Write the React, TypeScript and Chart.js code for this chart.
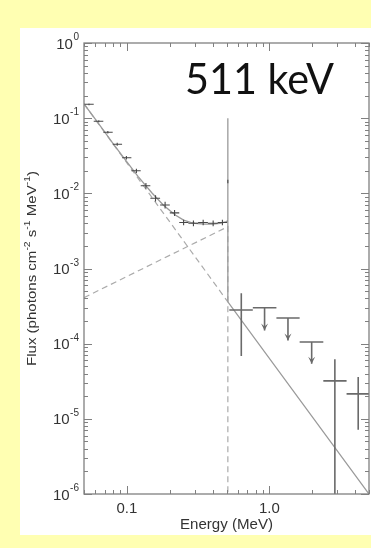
import React, { useEffect, useRef } from 'react';
import { Chart, registerables } from 'chart.js';

Chart.register(...registerables);

// ---------- data ----------
// low-energy spectrum points (MeV, photons cm^-2 s^-1 MeV^-1)
const lowE = [0.0542, 0.0635, 0.0735, 0.0855, 0.0992, 0.1166, 0.136, 0.1588, 0.1854, 0.216, 0.25, 0.293, 0.343, 0.403, 0.468];
const lowElo = [0.0502, 0.0585, 0.0683, 0.0795, 0.0925, 0.1075, 0.125, 0.146, 0.171, 0.2, 0.233, 0.27, 0.316, 0.37, 0.434];
const lowEhi = [0.0585, 0.0683, 0.0795, 0.0925, 0.1075, 0.125, 0.146, 0.171, 0.2, 0.233, 0.27, 0.316, 0.37, 0.434, 0.505];
const lowF = [0.153, 0.091, 0.065, 0.045, 0.0298, 0.02, 0.0126, 0.0086, 0.007, 0.0055, 0.0041, 0.004, 0.0041, 0.004, 0.0041];
const lowFerr = [0.004, 0.003, 0.0025, 0.002, 0.0016, 0.0013, 0.0011, 0.0008, 0.0007, 0.0005, 0.00035, 0.00035, 0.00035, 0.00035, 0.00035];

// 511 keV line bin
const lineE = [0.511];
const lineElo = [0.507];
const lineEhi = [0.515];
const lineF = [0.0144];
const lineFerr = [0.0008];

// high-energy detections
const hiE = [0.635, 2.88, 4.2];
const hiElo = [0.523, 2.39, 3.48];
const hiEhi = [0.765, 3.48, 5.0];
const hiF = [2.8e-4, 3.2e-5, 2.15e-5];
const hiFlo = [7.3e-5, 1e-6, 7.6e-6];
const hiFhi = [4.7e-4, 6.2e-5, 3.6e-5];

// upper limits
const ulE = [0.925, 1.35, 1.98];
const ulElo = [0.765, 1.12, 1.63];
const ulEhi = [1.12, 1.63, 2.39];
const ulF = [3.0e-4, 2.2e-4, 1.05e-4];
const ulTip = [1.5e-4, 1.1e-4, 5.4e-5];

// total model (solid)
const modelE = [0.05, 0.06, 0.07, 0.08, 0.1, 0.12, 0.15, 0.18, 0.2, 0.22, 0.25, 0.28, 0.3, 0.35, 0.4, 0.45, 0.5, 0.511, 0.511, 0.511, 5];
const modelF = [0.155, 0.097, 0.065, 0.046, 0.0262, 0.0167, 0.0101, 0.007, 0.0059, 0.0051, 0.0044, 0.0041, 0.004, 0.0039, 0.0039, 0.004, 0.0042, 0.0044, 0.1, 0.00036, 0.000001];

// power-law component (dashed)
const plE = [0.05, 0.511];
const plF = [0.155, 0.00036];

// positronium continuum (dashed)
const psE = [0.05, 0.511, 0.511];
const psF = [0.00041, 0.0036, 0.000001];

// axes
const xMin = 0.05;
const xMax = 5;
const yMin = 1e-6;
const yMax = 1;
const xMajor = [0.1, 1];
const xMajorLabels = ['0.1', '1.0'];
const yMajor = [1, 0.1, 0.01, 0.001, 0.0001, 0.00001, 0.000001];
const yMajorExp = ['0', '-1', '-2', '-3', '-4', '-5', '-6'];
const xDecades = [0.01, 0.1, 1];
const yDecades = [0.000001, 0.00001, 0.0001, 0.001, 0.01, 0.1, 1];
const mults = [1, 2, 3, 4, 5, 6, 7, 8, 9];

const buildTicks = (decades: number[], lo: number, hi: number) => {
  const out: number[] = [];
  decades.forEach((d) => mults.forEach((m) => {
    const v = parseFloat((m * d).toPrecision(3));
    if (v >= lo * 0.999 && v <= hi * 1.001) out.push(v);
  }));
  return out;
};
const xTickValues = buildTicks(xDecades, xMin, xMax);
const yTickValues = buildTicks(yDecades, yMin, yMax);

const FONT = "'Liberation Sans', Arial, sans-serif";

const decorPlugin = {
  id: 'decor',
  beforeDraw(chart: any) {
    const { ctx, width, height } = chart;
    ctx.save();
    ctx.fillStyle = '#FFFFB2';
    ctx.fillRect(0, 0, width, height);
    ctx.fillStyle = '#FFFFFF';
    ctx.fillRect(20, 28, width - 20, 507);
    ctx.restore();
  },
  afterDatasetsDraw(chart: any) {
    const { ctx, chartArea: a, scales } = chart;
    const xs = scales.x;
    const ys = scales.y;
    const X = (v: number) => xs.getPixelForValue(v);
    const Y = (v: number) => ys.getPixelForValue(v);

    ctx.save();
    ctx.beginPath();
    ctx.rect(a.left, a.top, a.right - a.left, a.bottom - a.top);
    ctx.clip();

    // low-energy crosses
    ctx.strokeStyle = '#474747';
    ctx.lineWidth = 1.1;
    ctx.beginPath();
    lowE.forEach((e, i) => {
      ctx.moveTo(X(lowElo[i]), Y(lowF[i]));
      ctx.lineTo(X(lowEhi[i]), Y(lowF[i]));
      ctx.moveTo(X(e), Y(lowF[i] - lowFerr[i]));
      ctx.lineTo(X(e), Y(lowF[i] + lowFerr[i]));
    });
    lineE.forEach((e, i) => {
      ctx.moveTo(X(lineElo[i]), Y(lineF[i]));
      ctx.lineTo(X(lineEhi[i]), Y(lineF[i]));
      ctx.moveTo(X(e), Y(lineF[i] - lineFerr[i]));
      ctx.lineTo(X(e), Y(lineF[i] + lineFerr[i]));
    });
    ctx.stroke();

    // high-energy points
    ctx.strokeStyle = '#6a6a6a';
    ctx.lineWidth = 1.6;
    ctx.beginPath();
    hiE.forEach((e, i) => {
      ctx.moveTo(X(hiElo[i]), Y(hiF[i]));
      ctx.lineTo(X(hiEhi[i]), Y(hiF[i]));
      ctx.moveTo(X(e), Y(hiFlo[i]) + 2);
      ctx.lineTo(X(e), Y(hiFhi[i]));
    });
    ulE.forEach((e, i) => {
      ctx.moveTo(X(ulElo[i]), Y(ulF[i]));
      ctx.lineTo(X(ulEhi[i]), Y(ulF[i]));
      ctx.moveTo(X(e), Y(ulF[i]));
      ctx.lineTo(X(e), Y(ulTip[i]));
    });
    ctx.stroke();
    // arrow heads
    ctx.fillStyle = '#6a6a6a';
    ulE.forEach((e, i) => {
      const px = X(e);
      const py = Y(ulTip[i]);
      ctx.beginPath();
      ctx.moveTo(px - 3.5, py - 7);
      ctx.lineTo(px, py);
      ctx.lineTo(px + 3.5, py - 7);
      ctx.lineTo(px, py - 4);
      ctx.closePath();
      ctx.fill();
    });
    ctx.restore();

    // frame
    ctx.save();
    ctx.strokeStyle = '#808080';
    ctx.lineWidth = 1.3;
    ctx.strokeRect(a.left, a.top, a.right - a.left, a.bottom - a.top);

    // inward ticks on all four sides
    ctx.lineWidth = 1;
    ctx.beginPath();
    xTickValues.forEach((v) => {
      const px = Math.round(X(v)) + 0.5;
      const len = xMajor.includes(v) ? 8 : 4;
      ctx.moveTo(px, a.bottom);
      ctx.lineTo(px, a.bottom - len);
      ctx.moveTo(px, a.top);
      ctx.lineTo(px, a.top + len);
    });
    yTickValues.forEach((v) => {
      const py = Math.round(Y(v)) + 0.5;
      const len = yMajor.includes(v) ? 8 : 4;
      ctx.moveTo(a.left, py);
      ctx.lineTo(a.left + len, py);
      ctx.moveTo(a.right, py);
      ctx.lineTo(a.right - len, py);
    });
    ctx.stroke();

    // tick labels
    ctx.fillStyle = '#333';
    ctx.textBaseline = 'alphabetic';
    yMajor.forEach((v, i) => {
      const py = Y(v);
      ctx.font = `10px ${FONT}`;
      const we = ctx.measureText(yMajorExp[i]).width;
      ctx.font = `15px ${FONT}`;
      const wb = ctx.measureText('10').width;
      const right = a.left - 5;
      ctx.textAlign = 'left';
      ctx.fillText('10', right - we - wb - 0.5, py + 5.5);
      ctx.font = `10px ${FONT}`;
      ctx.fillText(yMajorExp[i], right - we, py - 3);
    });
    ctx.font = `15px ${FONT}`;
    ctx.textAlign = 'center';
    ctx.textBaseline = 'middle';
    xMajor.forEach((v, i) => {
      ctx.fillText(xMajorLabels[i], X(v), 509);
    });

    // x title
    ctx.font = `14px ${FONT}`;
    const xt = 'Energy (MeV)';
    const xw = ctx.measureText(xt).width;
    ctx.save();
    ctx.translate((a.left + a.right) / 2, 525);
    ctx.scale(93 / xw, 1);
    ctx.fillText(xt, 0, 0);
    ctx.restore();

    // y title with superscripts
    const segs: [string, boolean][] = [
      ['Flux (photons cm', false], ['-2', true], [' s', false], ['-1', true], [' MeV', false], ['-1', true], [')', false],
    ];
    let total = 0;
    const widths = segs.map(([t, sup]) => {
      ctx.font = sup ? `9px ${FONT}` : `13px ${FONT}`;
      const w = ctx.measureText(t).width;
      total += w;
      return w;
    });
    ctx.save();
    ctx.translate(31, (a.top + a.bottom) / 2);
    ctx.rotate(-Math.PI / 2);
    ctx.scale(195 / total, 1);
    ctx.textAlign = 'left';
    ctx.textBaseline = 'alphabetic';
    let cx = -total / 2;
    segs.forEach(([t, sup], i) => {
      ctx.font = sup ? `9px ${FONT}` : `13px ${FONT}`;
      ctx.fillText(t, cx, sup ? -1.5 : 4.5);
      cx += widths[i];
    });
    ctx.restore();

    // big annotation
    ctx.fillStyle = '#111';
    ctx.font = `43px Lato, 'Open Sans', sans-serif`;
    ctx.textAlign = 'left';
    ctx.textBaseline = 'alphabetic';
    const big = '511 keV';
    const bw = ctx.measureText(big).width;
    ctx.save();
    ctx.translate(185, 94);
    ctx.scale(149 / bw, 1);
    ctx.fillText(big, 0, 0);
    ctx.restore();

    ctx.restore();
  },
};

const pts = (xs: number[], ys: number[]) => xs.map((x, i) => ({ x, y: ys[i] }));

export default function App() {
  const ref = useRef<HTMLCanvasElement>(null);
  useEffect(() => {
    if (!ref.current) return;
    const chart = new Chart(ref.current, {
      type: 'scatter',
      data: {
        datasets: [
          {
            data: pts(modelE, modelF),
            showLine: true,
            borderColor: '#9a9a9a',
            borderWidth: 1.3,
            pointRadius: 0,
            fill: false,
          },
          {
            data: pts(plE, plF),
            showLine: true,
            borderColor: '#ababab',
            borderWidth: 1.2,
            borderDash: [6, 4],
            pointRadius: 0,
            fill: false,
          },
          {
            data: pts(psE, psF),
            showLine: true,
            borderColor: '#ababab',
            borderWidth: 1.2,
            borderDash: [6, 4],
            pointRadius: 0,
            fill: false,
          },
        ],
      },
      options: {
        animation: false,
        responsive: false,
        devicePixelRatio: 1,
        events: [],
        layout: { padding: { top: 43, right: 2, left: 0, bottom: 0 } },
        plugins: { legend: { display: false }, tooltip: { enabled: false } },
        scales: {
          x: {
            type: 'logarithmic',
            min: xMin,
            max: xMax,
            grid: { display: false },
            border: { display: false },
            ticks: { display: false, autoSkip: false },
            afterBuildTicks: (s: any) => { s.ticks = xTickValues.map((v) => ({ value: v })); },
            afterFit: (s: any) => { s.height = 54; },
          },
          y: {
            type: 'logarithmic',
            min: yMin,
            max: yMax,
            grid: { display: false },
            border: { display: false },
            ticks: { display: false, autoSkip: false },
            afterBuildTicks: (s: any) => { s.ticks = yTickValues.map((v) => ({ value: v })); },
            afterFit: (s: any) => { s.width = 84; },
          },
        },
      } as any,
      plugins: [decorPlugin],
    });
    return () => chart.destroy();
  }, []);

  return (
    <div style={{ position: 'fixed', left: 0, top: 0, width: 371, height: 548, background: '#FFFFFF', overflow: 'hidden' }}>
      <canvas ref={ref} width={371} height={548} style={{ display: 'block', width: 371, height: 548 }} />
    </div>
  );
}
